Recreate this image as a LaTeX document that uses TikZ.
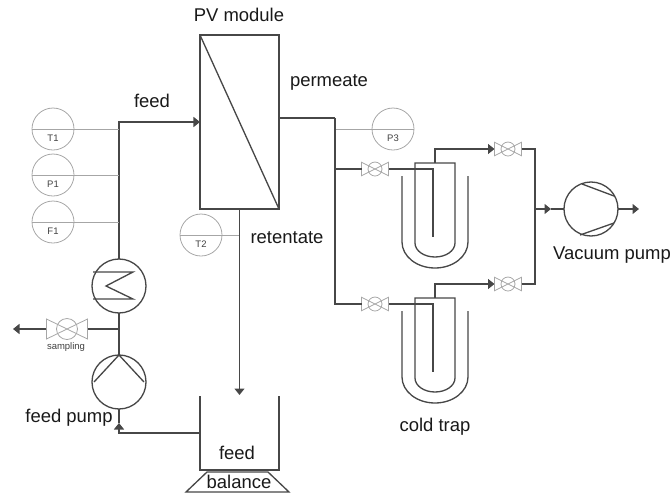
\documentclass[tikz,border=0pt]{standalone}
\usepackage{fontspec}
\setmainfont{Liberation Sans}
\usetikzlibrary{arrows.meta}
\tikzset{
  pipe/.style={draw=black!72,line width=0.75pt},
  tipped/.style={pipe,-{Triangle[length=0.13cm,width=0.2cm]}},
  thinline/.style={draw=black!35,line width=0.45pt},
  inst/.style={circle,thinline,minimum size=0.84cm,inner sep=0pt,outer sep=0pt},
  instlabel/.style={font=\fontsize{5.4}{6}\selectfont,text=black!75,inner sep=0pt},
  rotary/.style={circle,pipe,minimum size=1.08cm,inner sep=0pt,outer sep=0pt},
  valvebox/.style={minimum width=0.54cm,minimum height=0.27cm,inner sep=0pt,outer sep=0pt},
  caption/.style={font=\fontsize{10.5}{12}\selectfont,text=black!90,inner sep=0pt},
}
\begin{document}
\begin{tikzpicture}[x=1cm,y=1cm]
\useasboundingbox (0,0) rectangle (13.44,-9.86);

% module
\node[pipe,minimum width=1.58cm,minimum height=3.48cm,inner sep=0pt,outer sep=0pt] (module) at (4.79,-2.44) {};
\draw[pipe] (module.north west) -- (module.south east);
\node[caption] (modulelabel) at (4.78,-0.3) {PV module};

% feed loop
\node[rotary] (hx) at (2.38,-5.72) {};
\node[rotary] (feedpump) at (2.38,-7.64) {};
\draw[pipe] (1.86,-5.44) -- (2.66,-5.44) -- (2.12,-5.72) -- (2.66,-5.98) -- (1.86,-5.98);
\draw[pipe] (feedpump.north) -- (1.88,-7.64);
\draw[pipe] (feedpump.north) -- (2.88,-7.64);
\draw[tipped] (hx.north) |- (module.west);
\draw[pipe] (hx.south) -- (feedpump.north);
\node[caption] (feedlabel) at (3.04,-2.02) {feed};
\node[caption] (feedpumplabel) at (1.38,-8.36) {feed pump};

% instruments
\foreach \n/\x/\y in {T1/1.06/-2.58,P1/1.06/-3.5,F1/1.06/-4.44,T2/4.02/-4.7,P3/7.86/-2.58}{
  \node[inst] (\n) at (\x,\y) {};
  \node[instlabel] (\n label) at ([yshift=-0.19cm]\n.center) {\n};
}
\draw[thinline] (T1.west) -- (T1.west -| hx.north);
\draw[thinline] (P1.west) -- (P1.west -| hx.north);
\draw[thinline] (F1.west) -- (F1.west -| hx.north);
\draw[thinline] (T2.west) -- (T2.west -| module.south);

% sampling
\node[valvebox,minimum width=0.82cm,minimum height=0.4cm] (sampling) at (1.34,-6.58) {};
\draw[thinline] (sampling.north west) -- (sampling.south east) -- (sampling.north east) -- (sampling.south west) -- cycle;
\draw[thinline] (sampling.center) circle (0.21);
\node[instlabel] (samplinglabel) at (1.32,-6.94) {sampling};
\coordinate (samplingout) at (0.26,-6.58);
\draw[tipped] (sampling.west) -- (samplingout);
\draw[pipe] (sampling.east) -- (sampling.east -| hx.south);

% tank
\draw[pipe] (4,-7.92) -- (4,-9.4) -- (5.58,-9.4) -- (5.58,-7.92);
\draw[pipe] (4.14,-9.44) -- (5.36,-9.44) -- (5.78,-9.84) -- (3.72,-9.84) -- cycle;
\node[caption] (tanklabel) at (4.74,-9.06) {feed};
\node[caption] (balancelabel) at (4.78,-9.64) {balance};
\coordinate (tankout) at (4,-8.66);
\coordinate (pumpin) at (2.38,-8.46);
\draw[tipped] (tankout) -| (pumpin);
\draw[pipe] (pumpin) -- (feedpump.south);
\coordinate (retentateend) at (4.79,-7.9);
\draw[tipped] (module.south) -- (retentateend);
\node[caption] (retentatelabel) at (5.74,-4.76) {retentate};

% permeate
\node[caption] (permeatelabel) at (6.58,-1.64) {permeate};
\coordinate (permout) at (5.58,-2.36);
\coordinate (permjoin) at (6.7,-2.36);
\draw[pipe] (permout) -- (permjoin);
\draw[thinline] (6.7,-2.58) -- (P3.east);

% cold traps
\foreach \n/\dy in {a/0,b/-2.7}{
\begin{scope}[yshift=\dy cm]
\node[valvebox] (invalve\n) at (7.5,-3.38) {};
\node[valvebox] (outvalve\n) at (10.16,-2.98) {};
\coordinate (dip\n) at (8.66,-3.38);
\coordinate (dipend\n) at (8.66,-4.74);
\coordinate (traptop\n) at (8.7,-3.26);
\coordinate (trapout\n) at (8.7,-2.98);
\draw[pipe] (8.7,-3.26) -- (8.3,-3.26) -- (8.3,-4.86) arc[start angle=180,end angle=360,x radius=0.4,y radius=0.28] -- (9.1,-3.26) -- cycle;
\draw[pipe] (8.04,-3.52) -- (8.04,-4.84) arc[start angle=180,end angle=360,x radius=0.66,y radius=0.52] -- (9.36,-3.52);
\draw[pipe] (invalve\n.east) -- (dip\n) -- (dipend\n);
\draw[tipped] (traptop\n) -- (trapout\n) -- (outvalve\n.west);
\end{scope}
\draw[thinline] (invalve\n.north west) -- (invalve\n.south east) -- (invalve\n.north east) -- (invalve\n.south west) -- cycle;
\draw[thinline] (invalve\n.center) circle (0.14);
\draw[thinline] (outvalve\n.north west) -- (outvalve\n.south east) -- (outvalve\n.north east) -- (outvalve\n.south west) -- cycle;
\draw[thinline] (outvalve\n.center) circle (0.14);
}
\draw[pipe] (permjoin |- invalvea.west) -- (invalvea.west);
\draw[pipe] (permjoin) |- (invalveb.west);
\node[caption] (coldtraplabel) at (8.7,-8.54) {cold trap};

% vacuum side
\node[rotary] (vacuum) at (11.82,-4.18) {};
\draw[pipe] (11.64,-3.68) -- (12.28,-3.92);
\draw[pipe] (11.6,-4.7) -- (12.28,-4.46);
\coordinate (headjoin) at (10.7,-4.18);
\coordinate (vacuumin) at (11.02,-4.18);
\coordinate (vacuumout) at (12.78,-4.18);
\draw[pipe] (outvalvea.east) -| (headjoin);
\draw[pipe] (outvalveb.east) -| (headjoin);
\draw[tipped] (headjoin) -- (vacuumin);
\draw[pipe] (vacuumin) -- (vacuum.west);
\draw[tipped] (vacuum.east) -- (vacuumout);
\node[caption] (vacuumlabel) at (12.24,-5.1) {Vacuum pump};
\end{tikzpicture}
\end{document}
